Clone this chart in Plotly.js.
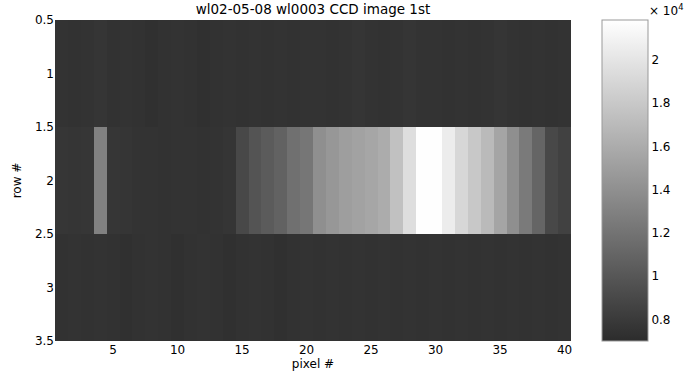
<!DOCTYPE html>
<html>
<head>
<meta charset="utf-8">
<script src="https://cdn.plot.ly/plotly-3.0.1.min.js"></script>
<style>html,body{margin:0;padding:0;background:#fff;}#chart{width:684px;height:371px;}</style>
</head>
<body>
<div id="chart"></div>
<script>
// pixel index (columns) and row index
const pixels = Array.from({length: 40}, (_, i) => i + 1);
const rows = [1, 2, 3];

// CCD counts
const row1 = [7500,7400,7500,7600,7400,7500,7400,7300,7400,7500,7400,7300,7400,7500,7400,7500,7400,7500,7400,7500,7500,7400,7500,7600,7500,7400,7500,7600,7500,7500,7400,7500,7400,7500,7600,7500,7400,7500,7400,7500];
const row2 = [7700,7600,7700,13000,7700,7600,7500,7500,7400,7500,7500,7400,7500,7600,9000,9800,10300,10800,11800,12200,14000,14500,15000,15300,15600,16000,17500,19500,21800,21800,20500,19000,18000,17000,15500,14000,12500,11000,9000,8500];
const row3 = [7400,7500,7400,7500,7400,7300,7400,7500,7400,7300,7400,7500,7400,7300,7400,7500,7400,7300,7400,7500,7400,7500,7400,7500,7400,7500,7400,7500,7400,7500,7400,7500,7400,7500,7400,7500,7400,7500,7400,7500];

const xTicks = [5,10,15,20,25,30,35,40];
const yTicks = [0.5,1,1.5,2,2.5,3,3.5];
const yTickText = ['0.5','1','1.5','2','2.5','3','3.5'];
const cbTicks = [8000,10000,12000,14000,16000,18000,20000];
const cbTickText = ['0.8','1','1.2','1.4','1.6','1.8','2'];

const fnt = {family: 'DejaVu Sans, Arial, sans-serif', size: 12, color: '#000'};
const tfnt = {family: 'DejaVu Sans, Arial, sans-serif', size: 13.5, color: '#000'};

const trace = {
  type: 'heatmap',
  x: pixels,
  y: rows,
  z: [row1, row2, row3],
  zmin: 7000,
  zmax: 21850,
  colorscale: [[0, '#2c2c2c'], [1, '#ffffff']],
  hoverinfo: 'skip',
  colorbar: {
    x: 1.06, xanchor: 'left', xref: 'paper',
    y: 0.5, yanchor: 'middle', len: 1, lenmode: 'fraction',
    thickness: 46, thicknessmode: 'pixels',
    outlinewidth: 1, outlinecolor: '#999',
    xpad: 0, ypad: 0,
    tickvals: cbTicks, ticktext: cbTickText,
    ticks: '', tickfont: fnt
  }
};

const layout = {
  width: 684, height: 371,
  margin: {l: 55, r: 113, t: 20, b: 30},
  paper_bgcolor: '#fff', plot_bgcolor: '#fff',
  font: fnt,
  title: {text: 'wl02-05-08 wl0003 CCD image 1st', font: tfnt, xref: 'paper', x: 0.5, xanchor: 'center', yref: 'container', y: 1 - 9/371, yanchor: 'middle'},
  xaxis: {range: [0.5, 40.5], tickvals: xTicks, ticks: '', showgrid: false, zeroline: false, showline: false,
          title: {text: 'pixel #', font: fnt, standoff: 0}, tickfont: fnt, automargin: false},
  yaxis: {range: [3.5, 0.5], tickvals: yTicks, ticktext: yTickText, ticks: '', showgrid: false, zeroline: false, showline: false,
          title: {text: 'row #', font: fnt, standoff: 10}, tickfont: fnt, automargin: false},
  annotations: [{
    xref: 'paper', yref: 'paper', x: 1.147, y: 1.0, xanchor: 'left', yanchor: 'bottom',
    text: '× 10<sup>4</sup>', showarrow: false, font: fnt
  }]
};

Plotly.newPlot('chart', [trace], layout, {displayModeBar: false, staticPlot: true});
</script>
</body>
</html>
